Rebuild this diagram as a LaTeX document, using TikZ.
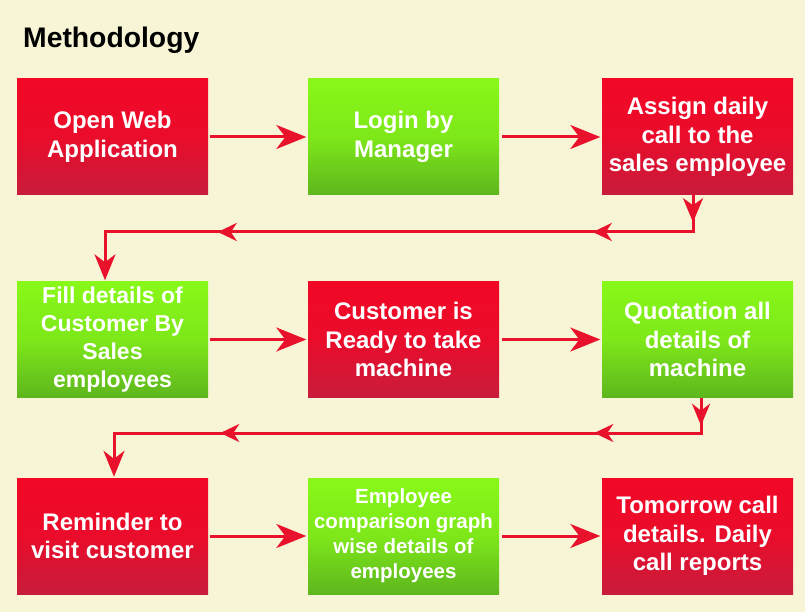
\documentclass[tikz,border=0pt]{standalone}
\usepackage{fontspec}
\setmainfont{Liberation Sans}
\usetikzlibrary{arrows.meta,decorations.markings}
\definecolor{bgc}{RGB}{247,245,213}
\definecolor{redtop}{RGB}{242,8,38}
\definecolor{redbot}{RGB}{200,28,60}
\definecolor{greentop}{RGB}{136,248,24}
\definecolor{greenbot}{RGB}{94,182,30}
\definecolor{linec}{RGB}{232,18,45}
\tikzset{
  box/.style={rectangle, minimum width=191pt, minimum height=116pt, inner sep=0pt,
    align=center, text=white, font=\bfseries\fontsize{24}{28.5}\selectfont},
  redbox/.style={box, top color=redtop, bottom color=redbot, middle color=redtop!80!redbot},
  greenbox/.style={box, top color=greentop, bottom color=greenbot, middle color=greentop!75!greenbot},
  bigtip/.tip={Stealth[length=30pt,width=24pt,inset=9pt]},
  endtip/.tip={Stealth[length=26pt,width=21pt,inset=8pt]},
  smalltip/.tip={Stealth[length=19pt,width=18pt,inset=6pt]},
  conn/.style={draw=linec, line width=3pt},
  flow/.style={conn, -bigtip, shorten >=1.5pt}
}
\begin{document}
\begin{tikzpicture}[x=1pt,y=-1pt]
\useasboundingbox (0,0) rectangle (805,612);
\fill[bgc] (0,0) rectangle (805,612);
\node[anchor=base west, inner sep=0pt, font=\bfseries\fontsize{28.3}{30}\selectfont] (title) at (23,48) {Methodology};

\node[redbox]   (b1) at (112.5,137) {Open Web\\Application};
\node[greenbox] (b2) at (403.5,137) {Login by\\Manager};
\node[redbox]   (b3) at (697.5,137) {Assign daily\\call to the\\sales employee};

\node[greenbox, font=\bfseries\fontsize{23}{28}\selectfont] (b4) at (112.5,339.5) {Fill details of\\Customer By\\Sales\\employees};
\node[redbox]   (b5) at (403.5,339.5) {Customer is\\Ready to take\\machine};
\node[greenbox] (b6) at (697.5,339.5) {Quotation all\\details of\\machine};

\node[redbox]   (b7) at (112.5,536) {Reminder to\\visit customer};
\node[greenbox, font=\bfseries\fontsize{20.5}{25}\selectfont] (b8) at (403.5,536) {Employee\\comparison graph\\wise details of\\employees};
\node[redbox]   (b9) at (697.5,536) {Tomorrow call\\details. Daily\\call reports};

\coordinate (c1) at (693,232);
\coordinate (c2) at (105,232);
\coordinate (c3) at (701,433);
\coordinate (c4) at (114,433);

\draw[flow] ([xshift=2pt]b1.east) -- (b2.west);
\draw[flow] ([xshift=3pt]b2.east) -- (b3.west);
\draw[flow] ([xshift=2pt]b4.east) -- (b5.west);
\draw[flow] ([xshift=3pt]b5.east) -- (b6.west);
\draw[flow] ([xshift=2pt]b7.east) -- (b8.west);
\draw[flow] ([xshift=3pt]b8.east) -- (b9.west);

\draw[conn, -endtip, shorten >=1pt, decoration={markings,
   mark=at position 27pt with {\arrow{Stealth[length=24pt,width=20pt,inset=7pt]}},
   mark=at position 137pt with {\arrow{smalltip}},
   mark=at position 512pt with {\arrow{smalltip}}}, postaction={decorate}]
  (b3.south -| c1) -- (c1) -- (c2) -- (c2 |- b4.north);

\draw[conn, -endtip, shorten >=1pt, decoration={markings,
   mark=at position 28pt with {\arrow{Stealth[length=22pt,width=18pt,inset=7pt]}},
   mark=at position 142pt with {\arrow{smalltip}},
   mark=at position 516pt with {\arrow{smalltip}}}, postaction={decorate}]
  (b6.south -| c3) -- (c3) -- (c4) -- (c4 |- b7.north);
\end{tikzpicture}
\end{document}
